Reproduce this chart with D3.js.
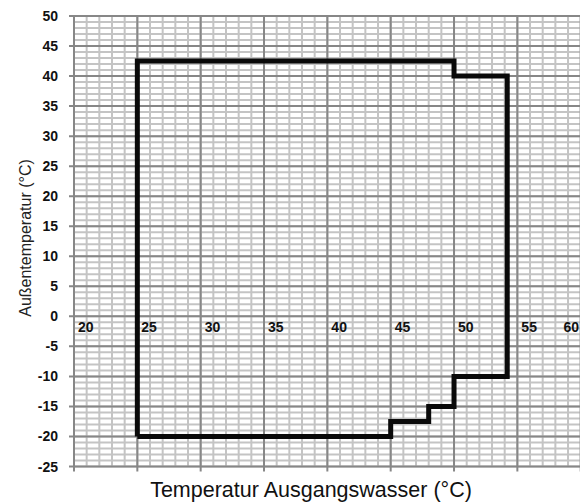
<!DOCTYPE html>
<html>
<head>
<meta charset="utf-8" />
<script src="https://d3js.org/d3.v7.min.js"></script>
<style>
    body { margin: 0; background: #fff; }
    text { font-family: "Liberation Sans", Arial, sans-serif; }
</style>
</head>
<body>
<script>
    // Einsatzgrenze: Außentemperatur gegen Ausgangswasser
    var wasserTemp = [25, 25, 50, 50, 54.2, 54.2, 50, 50, 48, 48, 45, 45, 25];
    var aussenTemp = [-20, 42.5, 42.5, 40, 40, -10, -10, -15, -15, -17.5, -17.5, -20, -20];
    var xTicks = [20, 25, 30, 35, 40, 45, 50, 55, 60];
    var yTicks = [50, 45, 40, 35, 30, 25, 20, 15, 10, 5, 0, -5, -10, -15, -20, -25];

    var width = 580, height = 502;

    var x = d3.scaleLinear().domain([20, 60]).range([74, 580.7]);
    var y = d3.scaleLinear().domain([-25, 50]).range([466.5, 16]);

    var svg = d3.select("body").append("svg")
        .attr("width", width)
        .attr("height", height);

    // feines Raster (1 Grad)
    var g = svg.append("g");
    g.selectAll(".vmin")
        .data(d3.range(20, 61, 1))
        .join("line")
        .attr("x1", d => x(d)).attr("x2", d => x(d))
        .attr("y1", y(50)).attr("y2", y(-25))
        .attr("stroke", "#c4c4c4")
        .attr("stroke-width", 2);
    g.selectAll(".hmin")
        .data(d3.range(-25, 51, 1))
        .join("line")
        .attr("x1", x(20)).attr("x2", width)
        .attr("y1", d => y(d)).attr("y2", d => y(d))
        .attr("stroke", "#c4c4c4")
        .attr("stroke-width", 2);

    // Hauptraster
    g.selectAll(".vmaj")
        .data(xTicks)
        .join("line")
        .attr("x1", d => x(d)).attr("x2", d => x(d))
        .attr("y1", y(50)).attr("y2", y(-25) + 5)
        .attr("stroke", "#878787")
        .attr("stroke-width", 2);
    g.selectAll(".hmaj")
        .data(yTicks)
        .join("line")
        .attr("x1", x(20) - 5).attr("x2", width)
        .attr("y1", d => y(d)).attr("y2", d => y(d))
        .attr("stroke", "#878787")
        .attr("stroke-width", 2);

    // Y-Achse Beschriftung
    svg.selectAll(".ylab")
        .data(yTicks)
        .join("text")
        .attr("x", 58)
        .attr("y", d => y(d) + 5)
        .attr("text-anchor", "end")
        .attr("font-size", 14)
        .attr("font-weight", "bold")
        .attr("fill", "#111")
        .text(d => d);

    // X-Achse Beschriftung auf der 0-Linie (letzte rückt nach links)
    svg.selectAll(".xlab")
        .data(xTicks)
        .join("text")
        .attr("x", d => d === 60 ? width - 1 : x(d) + 4)
        .attr("y", y(0) + 16)
        .attr("text-anchor", d => d === 60 ? "end" : "start")
        .attr("font-size", 14)
        .attr("font-weight", "bold")
        .attr("fill", "#111")
        .text(d => d);

    // Grenzlinie
    var pts = wasserTemp.map((w, i) => [w, aussenTemp[i]]);
    var line = d3.line().x(d => x(d[0])).y(d => y(d[1]));
    svg.append("path")
        .datum(pts)
        .attr("d", line)
        .attr("fill", "none")
        .attr("stroke", "#0a0a0a")
        .attr("stroke-width", 5)
        .attr("stroke-linejoin", "miter");

    // Achsentitel
    svg.append("text")
        .attr("x", 311)
        .attr("y", 497)
        .attr("text-anchor", "middle")
        .attr("font-size", 21.5)
        .attr("fill", "#111")
        .text("Temperatur Ausgangswasser (°C)");

    svg.append("text")
        .attr("transform", "translate(31,238) rotate(-90)")
        .attr("text-anchor", "middle")
        .attr("font-size", 16)
        .attr("fill", "#222")
        .text("Außentemperatur (°C)");
</script>
</body>
</html>
